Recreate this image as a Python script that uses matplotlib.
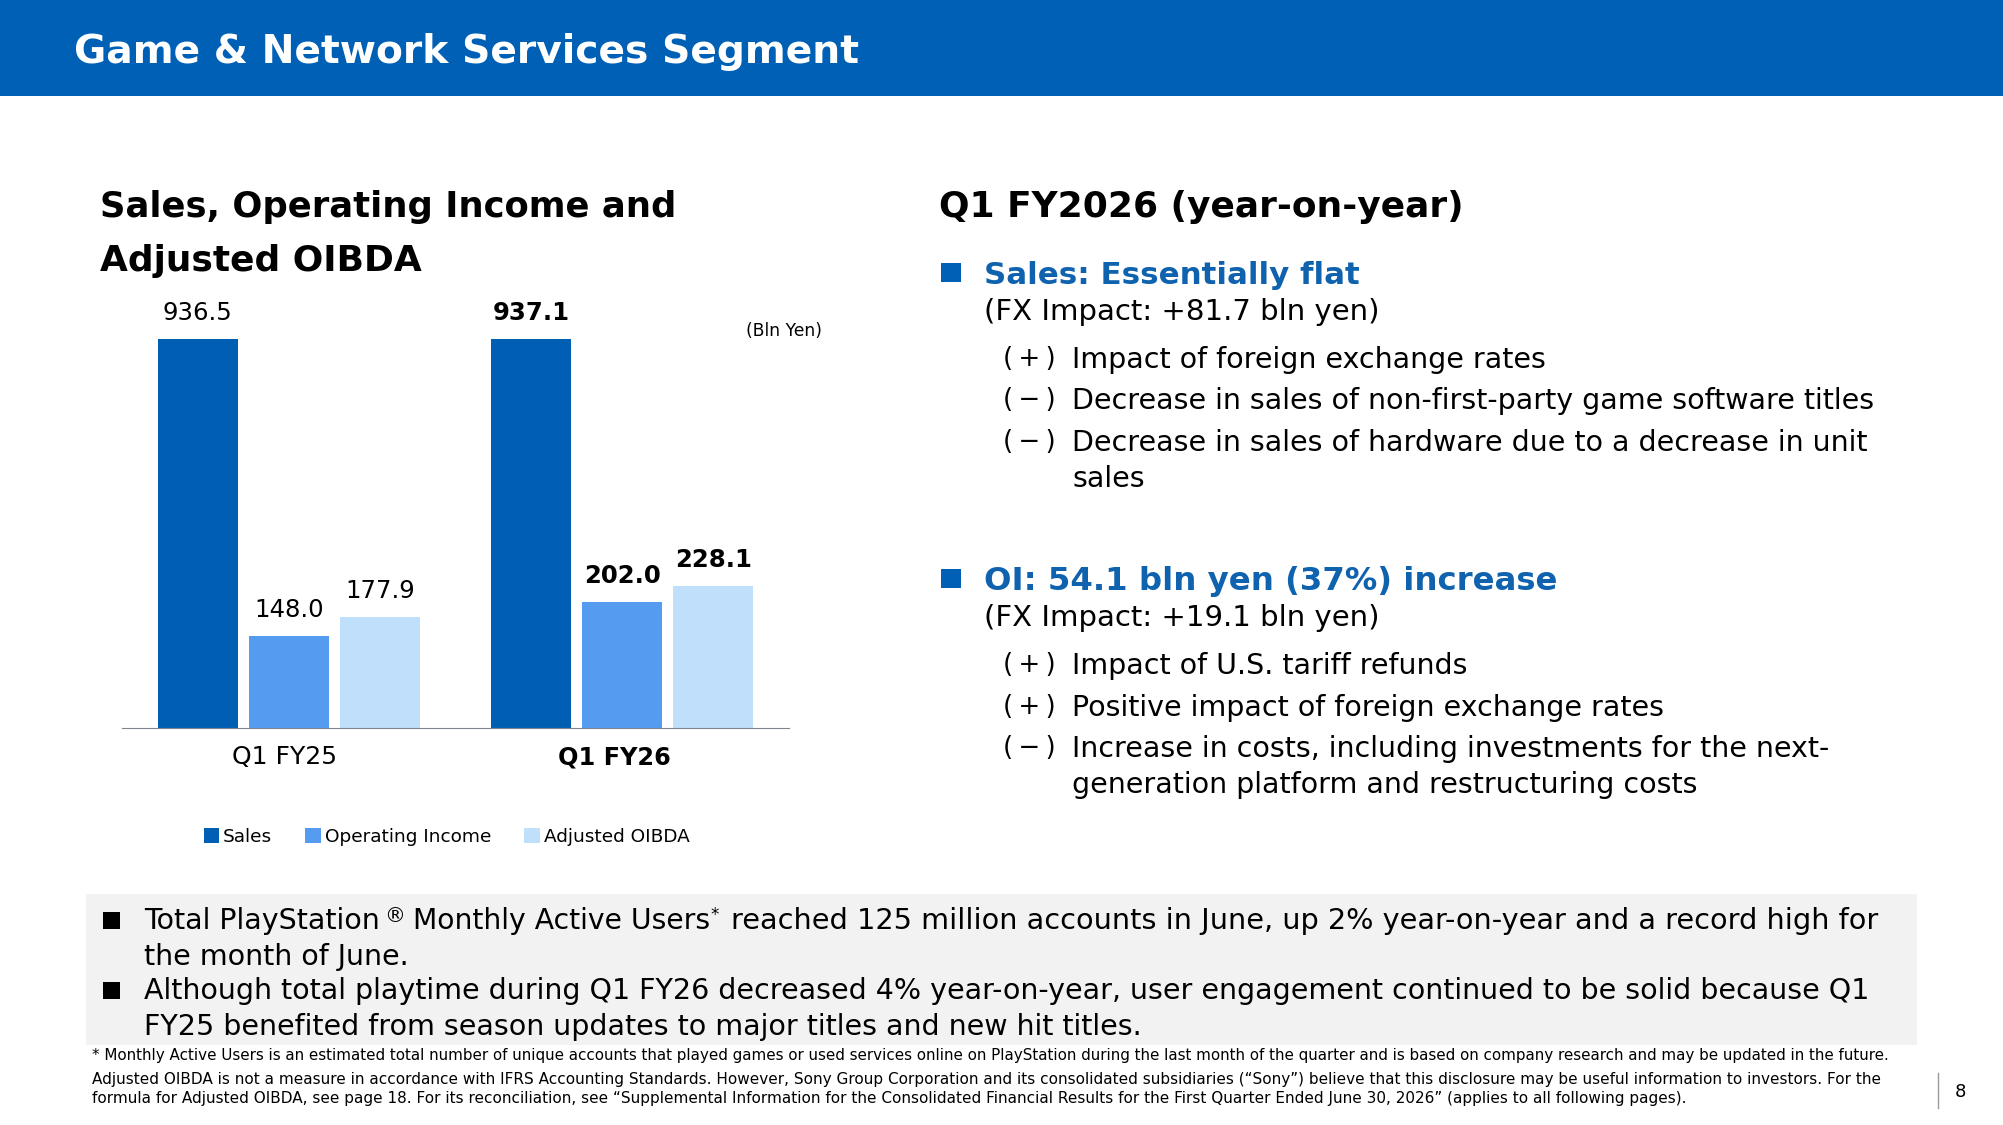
import matplotlib
matplotlib.use('Agg')
import matplotlib.pyplot as plt
from matplotlib.patches import Rectangle

W, H = 2003, 1125

# chart values (bln yen)
categories = ['Q1 FY25', 'Q1 FY26']
sales = [936.5, 937.1]
operating_income = [148.0, 202.0]
adjusted_oibda = [177.9, 228.1]
series_names = ['Sales', 'Operating Income', 'Adjusted OIBDA']

# the sales bars run past the top of the axis in the original slide
y_top = 626

title = 'Game & Network Services Segment'
chart_title = ['Sales, Operating Income and', 'Adjusted OIBDA']
right_title = 'Q1 FY2026 (year-on-year)'
sales_head = 'Sales: Essentially flat'
sales_fx = '(FX Impact: +81.7 bln yen)'
oi_head = 'OI: 54.1 bln yen (37%) increase'
oi_fx = '(FX Impact: +19.1 bln yen)'
plus = '(\u2009+\u2009)'
minus = '(\u2009\u2212\u2009)'
sales_items = [(plus, 'Impact of foreign exchange rates'),
               (minus, 'Decrease in sales of non-first-party game software titles'),
               (minus, 'Decrease in sales of hardware due to a decrease in unit'),
               ('', 'sales')]
oi_items = [(plus, 'Impact of U.S. tariff refunds'),
            (plus, 'Positive impact of foreign exchange rates'),
            (minus, 'Increase in costs, including investments for the next-'),
            ('', 'generation platform and restructuring costs')]
bottom_lines = ['the month of June.',
                'Although total playtime during Q1 FY26 decreased 4% year-on-year, user engagement continued to be solid because Q1',
                'FY25 benefited from season updates to major titles and new hit titles.']
footnotes = ['* Monthly Active Users is an estimated total number of unique accounts that played games or used services online on PlayStation during the last month of the quarter and is based on company research and may be updated in the future.',
             'Adjusted OIBDA is not a measure in accordance with IFRS Accounting Standards. However, Sony Group Corporation and its consolidated subsidiaries (\u201cSony\u201d) believe that this disclosure may be useful information to investors. For the',
             'formula for Adjusted OIBDA, see page 18. For its reconciliation, see \u201cSupplemental Information for the Consolidated Financial Results for the First Quarter Ended June 30, 2026\u201d (applies to all following pages).']

BLUE = '#0060B6'
HEAD_BLUE = '#0F62AE'
colors = ['#005FB3', '#559BF0', '#BFDFFA']

plt.rcParams['font.family'] = ['DejaVu Sans']

fig = plt.figure(figsize=(W / 100, H / 100), dpi=100)

# slide layer in pixel coordinates
bg = fig.add_axes([0, 0, 1, 1])
bg.set_xlim(0, W)
bg.set_ylim(H, 0)
bg.axis('off')


def box(x, y, w, h, color):
    bg.add_patch(Rectangle((x, y), w, h, facecolor=color, edgecolor='none'))


def txt(x, y, s, size, bold=False, color='black', ha='left'):
    bg.text(x, y, s, fontsize=size, fontweight='bold' if bold else 'normal',
            color=color, ha=ha, va='baseline')


box(0, 0, W, 96, BLUE)
txt(74, 63, title, 28.3, True, 'white')

for s, y, size in zip(chart_title, [217, 271], [25.5, 25.9]):
    txt(100, y, s, size, True)
txt(939, 217, right_title, 25.9, True)
txt(822, 336, '(Bln Yen)', 12.3, ha='right')


def section(y_head, head, head_size, fx, items, item_y):
    box(941, y_head - 21, 20, 19, BLUE)
    txt(984, y_head, head, head_size, True, HEAD_BLUE)
    txt(984, y_head + 36, fx, 21)
    for (mark, s), y in zip(items, item_y):
        if mark:
            txt(1003, y - 2, mark, 18.8)
        txt(1072, y, s, 20.5)


section(284, sales_head, 22.2, sales_fx, sales_items, [368, 409, 451, 487])
section(590, oi_head, 23.3, oi_fx, oi_items, [674, 716, 757, 793])

# grey note box
box(86, 894, 1831, 151, '#F2F2F2')
box(103, 912, 17, 17, 'black')
box(103, 982, 17, 17, 'black')
txt(144, 929, 'Total PlayStation', 20.5)
txt(384, 922, '\u00ae', 15)
txt(413, 929, 'Monthly Active Users', 20.3)
txt(710, 920, '*', 12)
txt(731, 929, 'reached 125 million accounts in June, up 2% year-on-year and a record high for', 20.7)
for s, y in zip(bottom_lines, [965, 999, 1035]):
    txt(144, y, s, 20.5)

for s, y, size in zip(footnotes, [1060, 1084, 1103], [10.93, 10.95, 10.97]):
    txt(92, y, s, size)

bg.plot([1938, 1938], [1073, 1108], color='#9A9A9A', lw=1)
txt(1960, 1097, '8', 13, ha='center')

# bar chart
ax = fig.add_axes([122 / W, 1 - 728 / H, 667 / W, 389 / H])
ax.patch.set_alpha(0)
width = 0.24
step = 0.273
series = [sales, operating_income, adjusted_oibda]
for k, vals in enumerate(series):
    for i, v in enumerate(vals):
        ax.bar(i + (k - 1) * step, v, width, color=colors[k], label=series_names[k] if i == 0 else None)
        ax.annotate(f'{v:.1f}', (i + (k - 1) * step, min(v, y_top)), xytext=(0, 14),
                    textcoords='offset points', ha='center', va='baseline', fontsize=17.6,
                    fontweight='bold' if i == 1 else 'normal', annotation_clip=False)
ax.set_xlim(-0.5, 1.5)
ax.set_ylim(0, y_top)
ax.set_xticks([])
ax.set_yticks([])
for name in ['top', 'left', 'right']:
    ax.spines[name].set_visible(False)
ax.spines['bottom'].set_color('#7F848E')
ax.spines['bottom'].set_linewidth(0.8)

for i, (cat, dx, size) in enumerate(zip(categories, [-3, -6], [18, 17.3])):
    ax.annotate(cat, (i, 0), xytext=(dx, -12.5), textcoords='offset points', ha='center', va='top',
                fontsize=size, fontweight='bold' if i == 1 else 'normal', annotation_clip=False)

ax.legend(loc='center left', bbox_to_anchor=(0.1225, -0.28), ncol=3, frameon=False, fontsize=13.3,
          handlelength=0.85, handleheight=0.85, handletextpad=0.2, columnspacing=1.8,
          borderpad=0, borderaxespad=0)

fig.savefig('out.png', dpi=100)
